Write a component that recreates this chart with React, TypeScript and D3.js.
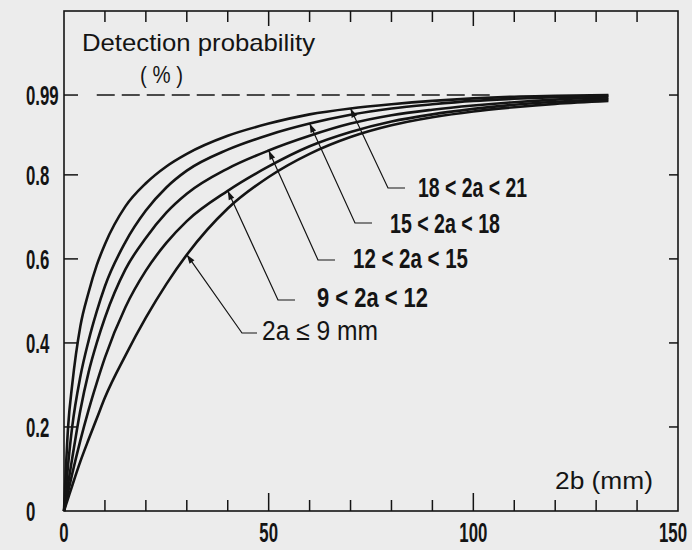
import React from 'react';
import * as d3 from 'd3';

// target width 2b (mm) sampled along the x axis
const xGrid = [0, 1, 2, 4, 6, 8, 10, 15, 20, 25, 30, 40, 50, 60, 70, 80, 90, 100, 110, 120, 133];

// detection probability per target size class (2a)
const p18to21 = [0, 0.2, 0.3, 0.44, 0.52, 0.585, 0.635, 0.725, 0.78, 0.82, 0.85, 0.893, 0.922, 0.944, 0.958, 0.968, 0.976, 0.982, 0.986, 0.988, 0.99];
const p15to18 = [0, 0.11, 0.2, 0.32, 0.405, 0.475, 0.535, 0.64, 0.715, 0.77, 0.81, 0.86, 0.895, 0.922, 0.943, 0.958, 0.968, 0.976, 0.981, 0.985, 0.988];
const p12to15 = [0, 0.065, 0.125, 0.24, 0.33, 0.4, 0.46, 0.575, 0.65, 0.71, 0.755, 0.815, 0.858, 0.893, 0.922, 0.942, 0.955, 0.965, 0.973, 0.979, 0.984];
const p9to12 = [0, 0.045, 0.088, 0.168, 0.24, 0.305, 0.365, 0.485, 0.572, 0.638, 0.69, 0.762, 0.82, 0.868, 0.902, 0.927, 0.944, 0.957, 0.967, 0.974, 0.98];
const pUpTo9 = [0, 0.03, 0.06, 0.118, 0.17, 0.22, 0.27, 0.37, 0.46, 0.54, 0.61, 0.72, 0.795, 0.85, 0.89, 0.918, 0.937, 0.951, 0.961, 0.969, 0.976];

const seriesLabels = ['18 < 2a < 21', '15 < 2a < 18', '12 < 2a < 15', '9 < 2a < 12', '2a ≤ 9 mm'];
// x value (mm) where each label's arrow touches its curve
const arrowAt = [70, 60, 50, 40, 30];

const yTicks = [0, 0.2, 0.4, 0.6, 0.8, 0.99];
const yTickLabels = ['0', '0.2', '0.4', '0.6', '0.8', '0.99'];
const xTickLabels = [0, 50, 100, 150];
const guideLevel = 0.99;

const W = 692;
const H = 550;
const ink = '#141414';

// leader elbows / label boxes (pixels, page layout only)
const labelLayout = [
  {ex: 388, ey: 188, hx: 405, tx: 418, ty: 197, tw: 109, weight: 700},
  {ex: 355, ey: 223, hx: 372, tx: 390, ty: 233, tw: 110, weight: 700},
  {ex: 318, ey: 260, hx: 335, tx: 353, ty: 268, tw: 115, weight: 700},
  {ex: 278, ey: 300, hx: 295, tx: 317, ty: 307, tw: 111, weight: 700},
  {ex: 242, ey: 333, hx: 257, tx: 262, ty: 340, tw: 116, weight: 500},
];

export default function App() {
  const x = d3.scaleLinear().domain([0, 150]).range([64, 678]);
  const y = d3.scaleLinear().domain([0, 1.19]).range([511, 11]);

  const series = [p18to21, p15to18, p12to15, p9to12, pUpTo9];
  const line = d3.line<number>()
    .x((d, i) => x(xGrid[i]))
    .y(d => y(d))
    .curve(d3.curveMonotoneX);

  const minorX = d3.range(10, 150, 10);
  const font = 'Liberation Sans, Arial, sans-serif';

  return (
    <svg width={W} height={H} style={{position: 'absolute', left: 0, top: 0, background: '#ececec'}}>
      {/* frame */}
      <rect x={x(0)} y={y(1.19)} width={x(150) - x(0)} height={y(0) - y(1.19)}
        fill="none" stroke={ink} strokeWidth={1.6} />

      {/* bottom and top ticks */}
      {minorX.map(v => (
        <g key={'xt' + v} stroke={ink} strokeWidth={1.5}>
          <line x1={x(v)} x2={x(v)} y1={y(0)} y2={y(0) - (v % 50 === 0 ? 18 : 11)} />
          <line x1={x(v)} x2={x(v)} y1={y(1.19)} y2={y(1.19) + (v % 50 === 0 ? 15 : 11)} />
        </g>
      ))}

      {/* left and right ticks */}
      {yTicks.filter(v => v > 0).map(v => (
        <g key={'yt' + v} stroke={ink} strokeWidth={1.5}>
          <line x1={x(0)} x2={x(0) + 14} y1={y(v)} y2={y(v)} />
          <line x1={x(150)} x2={x(150) - 9} y1={y(v)} y2={y(v)} />
        </g>
      ))}

      {/* y tick labels */}
      {yTicks.map((v, i) => (
        <text key={'yl' + v} transform={`translate(26,${y(v) + 10}) scale(0.6,1)`}
          fontFamily={font} fontWeight={700} fontSize={28} fill={ink}>
          {yTickLabels[i]}
        </text>
      ))}

      {/* x tick labels */}
      {xTickLabels.map(v => (
        <text key={'xl' + v} transform={`translate(${x(v) - (v === 150 ? 5 : 0)},542) scale(0.6,1)`}
          textAnchor="middle" fontFamily={font} fontWeight={700} fontSize={28} fill={ink}>
          {v}
        </text>
      ))}

      {/* titles */}
      <text x={82} y={51} fontFamily={font} fontSize={24} fontWeight={500} fill={ink}
        textLength={233} lengthAdjust="spacingAndGlyphs">Detection probability</text>
      <text x={140} y={83} fontFamily={font} fontSize={24} fontWeight={500} fill={ink}
        textLength={43} lengthAdjust="spacingAndGlyphs">( % )</text>
      <text x={555} y={489} fontFamily={font} fontSize={23} fontWeight={500} fill={ink}
        textLength={98} lengthAdjust="spacingAndGlyphs">2b (mm)</text>

      {/* 0.99 guide */}
      <line x1={x(8)} x2={x(104)} y1={y(guideLevel)} y2={y(guideLevel)}
        stroke={ink} strokeWidth={1.5} strokeDasharray="18 7" />

      {/* curves */}
      {series.map((s, i) => (
        <path key={'c' + i} d={line(s) || ''} fill="none" stroke={ink} strokeWidth={2.6} />
      ))}

      {/* leaders and labels */}
      {series.map((s, i) => {
        const k = xGrid.indexOf(arrowAt[i]);
        const px = x(arrowAt[i]);
        const py = y(s[k]);
        const L = labelLayout[i];
        const dx = px - L.ex;
        const dy = py - L.ey;
        const len = Math.hypot(dx, dy);
        const ux = dx / len;
        const uy = dy / len;
        const bx = px - ux * 9;
        const by = py - uy * 9;
        const head = `M${px},${py}L${bx - uy * 3},${by + ux * 3}L${bx + uy * 3},${by - ux * 3}Z`;
        return (
          <g key={'lab' + i}>
            <polyline points={`${px},${py} ${L.ex},${L.ey} ${L.hx},${L.ey}`}
              fill="none" stroke={ink} strokeWidth={1.2} />
            <path d={head} fill={ink} />
            <text x={L.tx} y={L.ty} fontFamily={font} fontWeight={L.weight} fontSize={27} fill={ink}
              textLength={L.tw} lengthAdjust="spacingAndGlyphs">{seriesLabels[i]}</text>
          </g>
        );
      })}
    </svg>
  );
}
